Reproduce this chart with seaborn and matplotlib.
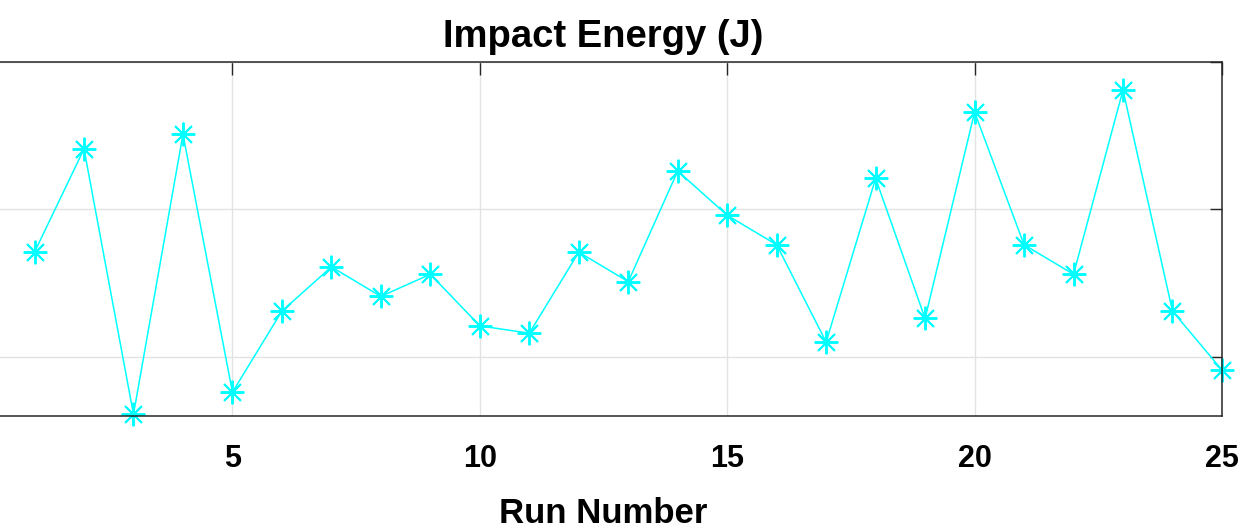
import numpy as np
import matplotlib
matplotlib.use("Agg")
import matplotlib.pyplot as plt
import seaborn as sns

# run numbers and impact energy readings (J)
runs = list(range(1, 26))
energy = [107.1, 114.1, 96.1, 115.1, 97.6, 103.1, 106.1, 104.1, 105.6, 102.1,
          101.6, 107.1, 105.1, 112.6, 109.6, 107.6, 101.0, 112.1, 102.6, 116.6,
          107.6, 105.6, 118.1, 103.1, 99.1]
xticks = [5, 10, 15, 20, 25]
yticks = [100, 110, 120]

sns.set_style("white")
plt.rcParams["font.family"] = ["Liberation Sans", "DejaVu Sans"]

fig = plt.figure(figsize=(12.45, 5.23), dpi=100)
ax = fig.add_axes([-0.012, 0.205, 0.9935, 0.6765])

sns.lineplot(x=runs, y=energy, ax=ax, color="#00FFFF", linewidth=1.1,
             marker=(8, 2, 0), markersize=17, markeredgecolor="#00FFFF",
             markeredgewidth=1.4, clip_on=False)

ax.set_xlim(0, 25)
ax.set_ylim(96, 120)
ax.set_xticks(xticks)
ax.set_yticks(yticks)
ax.grid(True, color="#e3e3e3", linewidth=1.0)
ax.set_axisbelow(True)
ax.tick_params(direction="in", top=True, right=True, length=9, width=1.0,
               color="#262626", labelsize=22, pad=20, labelcolor="black",
               labelleft=False)
for lab in ax.get_xticklabels():
    lab.set_fontweight("bold")
for sp in ax.spines.values():
    sp.set_color("#262626")
    sp.set_linewidth(1.1)

ax.set_title("Impact Energy (J)", fontsize=27.5, fontweight="bold", pad=11,
             color="black")
ax.set_xlabel("Run Number", fontsize=25, fontweight="bold", labelpad=17,
              color="black")

fig.savefig("out.png", dpi=100)
